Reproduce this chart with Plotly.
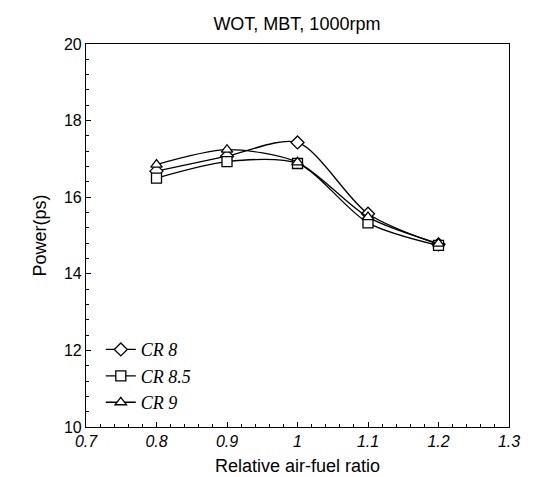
import plotly.graph_objects as go

afr = [0.8, 0.9, 1.0, 1.1, 1.2]
cr8 = [16.68, 17.07, 17.43, 15.57, 14.77]
cr85 = [16.50, 16.93, 16.88, 15.33, 14.74]
cr9 = [16.85, 17.24, 16.91, 15.48, 14.79]

series = [
    ("CR 8", cr8, "diamond"),
    ("CR 8.5", cr85, "square"),
    ("CR 9", cr9, "triangle-up"),
]

fig = go.Figure()
for name, vals, sym in series:
    fig.add_trace(go.Scatter(
        x=afr, y=vals, name=name, mode="lines+markers",
        line=dict(color="black", width=1.3, shape="spline", smoothing=0.8),
        marker=dict(symbol=sym, size=10, color="white",
                    line=dict(color="black", width=1.3)),
    ))

axis_common = dict(
    showline=True, linecolor="black", linewidth=1.2, mirror=True,
    ticks="inside", ticklen=5, tickcolor="black", tickwidth=1,
    showgrid=False, zeroline=False,
)

sans = "Liberation Sans, Arial"
fig.update_layout(
    width=535, height=477,
    margin=dict(l=78, r=34, t=36, b=58),
    paper_bgcolor="white", plot_bgcolor="white",
    title=dict(text="WOT, MBT, 1000rpm", x=0.54, xanchor="center",
               y=0.968, yanchor="middle",
               font=dict(family=sans, size=18, color="black")),
    xaxis=dict(range=[0.7, 1.3],
               tickvals=[0.7, 0.8, 0.9, 1.0, 1.1, 1.2, 1.3],
               ticktext=["0.7", "0.8", "0.9", "1", "1.1", "1.2", "1.3"],
               minor=dict(dtick=0.02, tick0=0.7, ticks="inside", ticklen=3, tickcolor="black"),
               tickfont=dict(family=sans, size=16, color="black", style="italic"),
               title=dict(text="Relative air-fuel ratio", standoff=10,
                          font=dict(family=sans, size=18, color="black")),
               **axis_common),
    yaxis=dict(range=[10, 20], dtick=2,
               minor=dict(dtick=0.4, ticks="inside", ticklen=3, tickcolor="black"),
               tickfont=dict(family=sans, size=16, color="black"),
               title=dict(text="Power(ps)", standoff=12,
                          font=dict(family=sans, size=18, color="black")),
               **axis_common),
    showlegend=True,
    legend=dict(x=0.035, y=0.25, xanchor="left", yanchor="top",
                bgcolor="rgba(0,0,0,0)",
                font=dict(family="Liberation Serif, Times New Roman", size=18,
                          color="black", style="italic"),
                itemwidth=30),
)

fig.write_html("out.html")
